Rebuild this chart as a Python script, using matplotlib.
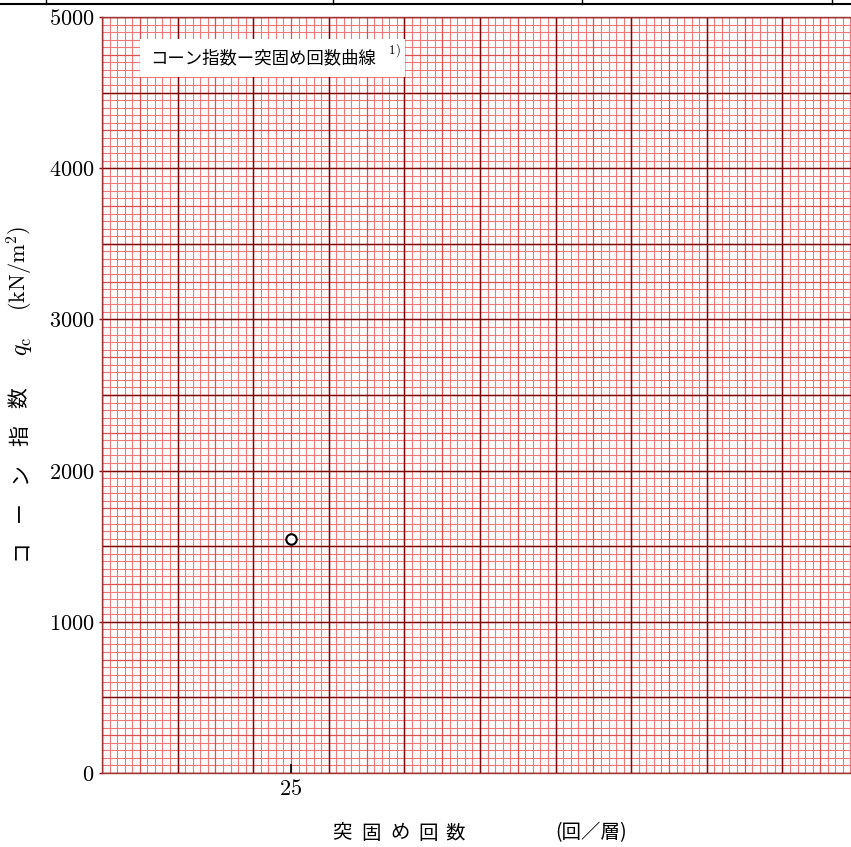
import numpy as np
import matplotlib.pyplot as plt
from matplotlib.lines import Line2D
from matplotlib.patches import Rectangle

plt.rcParams['mathtext.fontset'] = 'cm'
jp = ['Noto Sans CJK JP', 'DejaVu Sans']

# Measured point: blows per layer vs. cone index qc (kN/m2)
blows = [25]
cone_index = [1550]

y_ticks = [0, 1000, 2000, 3000, 4000, 5000]
x_ticks = [25]
x_max, y_max = 100, 5000

W, H = 851, 847
fig = plt.figure(figsize=(W / 100, H / 100), dpi=100)


def px(x, y):
    # pixel position (from top-left) -> figure fraction
    return x / W, 1 - y / H


ax = fig.add_axes([102 / W, 74 / H, 756 / W, 756 / H])
ax.set_xlim(0, x_max)
ax.set_ylim(0, y_max)

# graph paper: fine lines every 1 / 50, medium every 5 / 250, heavy every 10 / 500
paper = [(1, 50, '#f07878', 0.8),
         (5, 250, '#dc5050', 0.85),
         (10, 500, '#7a0808', 1.0)]
for sx, sy, col, lw in paper:
    v = ax.vlines(np.arange(0, x_max + 1, sx), 0, y_max, colors=col, linewidth=lw, zorder=1)
    h = ax.hlines(np.arange(0, y_max + 1, sy), 0, x_max, colors=col, linewidth=lw, zorder=1)
    v.set_snap(True)
    h.set_snap(True)

for s in ax.spines.values():
    s.set_color('#a03434')
    s.set_linewidth(1.0)

ax.set_yticks(y_ticks)
ax.set_yticklabels([f'${v}$' for v in y_ticks], fontsize=16)
ax.tick_params(axis='y', direction='out', length=2.5, width=1, color='#8a0c0c', pad=3)
ax.set_xticks(x_ticks)
ax.set_xticklabels([f'${v}$' for v in x_ticks], fontsize=16)
ax.tick_params(axis='x', direction='in', length=6.5, width=1.2, color='black', pad=4)

ax.plot(blows, cone_index, 'o', mfc='white', mec='black', ms=7.5, mew=1.5, zorder=5,
        clip_on=False)

# title box in the upper-left corner of the paper
ax.add_patch(Rectangle((38 / 756, 696 / 756), 265 / 756, 38 / 756,
                       transform=ax.transAxes, fc='white', ec='none', zorder=4))
ax.text(48 / 756, 715 / 756, 'コーン指数ー突固め回数曲線', transform=ax.transAxes,
        ha='left', va='center', fontsize=12.5, family=jp, zorder=6)
ax.text(286 / 756, 719 / 756, '$^{1)}$', transform=ax.transAxes,
        ha='left', va='center', fontsize=13, zorder=6)

# y-axis label, one glyph at a time
for ch, y in zip(['コ', 'ー', 'ン', '指', '数'], [550, 512, 474, 436, 398]):
    fig.text(*px(20, y), ch, rotation=90, ha='center', va='center', fontsize=15, family=jp)
fig.text(*px(22, 346), r'$q_\mathrm{c}$', rotation=90, ha='center', va='center', fontsize=17)
fig.text(*px(20, 268), r'$\mathrm{(kN/m^2)}$', rotation=90, ha='center', va='center',
         fontsize=16)

# x-axis label
for ch, x in zip(['突', '固', 'め', '回', '数'], [342, 371, 400, 428, 455]):
    fig.text(*px(x, 833), ch, ha='center', va='center', fontsize=14, family=jp)
fig.text(*px(591, 833), '(回／層)', ha='center', va='center', fontsize=14, family=jp)

# ruled table border above the chart
fig.add_artist(Line2D([0, 1], [1 - 4 / H] * 2, color='black', lw=1.5, transform=fig.transFigure))
for x in [46, 333, 582, 832]:
    fig.add_artist(Line2D([x / W] * 2, [1, 1 - 4 / H], color='black', lw=1.0,
                          transform=fig.transFigure))

fig.savefig('out.png', dpi=100)
